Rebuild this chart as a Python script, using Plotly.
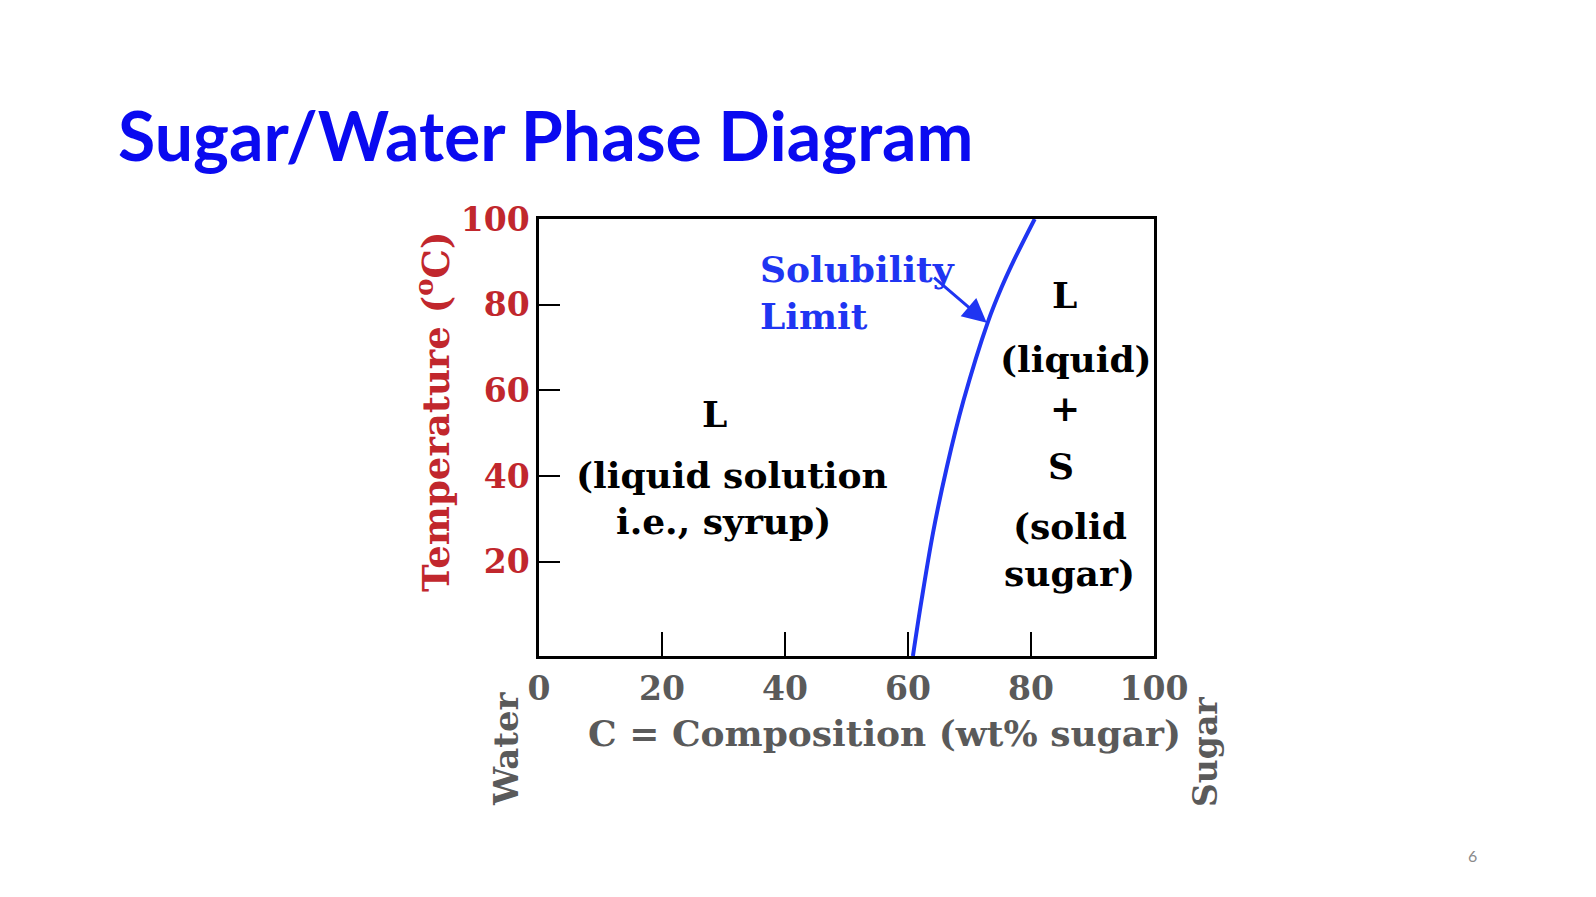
import plotly.graph_objects as go

# solubility limit
temp_c = [-2, 11, 27, 42, 57.5, 76, 84, 90, 100]          # temperature (oC)
sugar_wt = [60.8, 62.2, 64.1, 66.3, 69.0, 73.0, 75.2, 77.1, 80.6]  # wt% sugar

x_ticks = [0, 20, 40, 60, 80, 100]
y_ticks = [20, 40, 60, 80, 100]

W, H = 1596, 897
L, R, T, B = 531, 450, 211, 249
PW, PH = W - L - R, H - T - B

def paper(x, y):
    # page pixel -> paper coords, used for the text around the plot
    return (x - L) / PW, (H - B - y) / PH

SERIF = "DejaVu Serif"
RED = "#c1272d"
GRAY = "#5a5a5a"
BLUE = "#1f35f2"

fig = go.Figure()
fig.add_trace(go.Scatter(x=sugar_wt, y=temp_c, mode="lines",
                         line=dict(color=BLUE, width=4, shape="spline"),
                         hoverinfo="skip"))

anns = []

def page_text(text, x, y, size, color, family, angle=0, xanchor="center"):
    px_, py_ = paper(x, y)
    anns.append(dict(text=text, x=px_, y=py_, xref="paper", yref="paper",
                     xanchor=xanchor, yanchor="middle", showarrow=False,
                     textangle=angle,
                     font=dict(family=family, size=size, color=color, weight="bold")))

page_text("Sugar/Water Phase Diagram", 108, 126, 68, "#0a0af0", "Lato", xanchor="left")
page_text("Temperature (<sup>o</sup>C)", 425, 404, 37, RED, SERIF, angle=-90)
page_text("C = Composition (wt% sugar)", 876, 725, 36, GRAY, SERIF)
page_text("Water", 498, 741, 34, GRAY, SERIF, angle=-90)
page_text("Sugar", 1197, 744, 33, GRAY, SERIF, angle=-90)
anns.append(dict(text="6", x=paper(1471, 859)[0], y=paper(1471, 859)[1],
                 xref="paper", yref="paper", showarrow=False,
                 font=dict(family="Lato", size=16, color="#8a8a8a")))

# region labels inside the diagram
def region(text, x, y, color="black", xanchor="center"):
    anns.append(dict(text=text, x=x, y=y, xref="x", yref="y", showarrow=False,
                     xanchor=xanchor, yanchor="middle",
                     font=dict(family=SERIF, size=36, color=color, weight="bold")))

region("L", 28.6, 54.4)
region("(liquid solution", 31.4, 40.3)
region("i.e., syrup)", 30.0, 29.5)
region("L", 85.5, 82.2)
region("(liquid)", 87.3, 67.4)
region("+", 85.6, 55.8)
region("S", 84.8, 42.4)
region("(solid", 86.4, 28.3)
region("sugar)", 86.2, 17.4)
anns.append(dict(text="Solubility<br>Limit", x=35.6, y=82.9, xref="x", yref="y",
                 showarrow=False, xanchor="left", yanchor="middle", align="left",
                 font=dict(family=SERIF, size=36, color=BLUE, weight="bold")))
anns.append(dict(text="", x=72.8, y=75.8, ax=64.0, ay=86.6, xref="x", yref="y",
                 axref="x", ayref="y", showarrow=True, arrowhead=2, arrowsize=1.6,
                 arrowwidth=3, arrowcolor=BLUE))

fig.update_layout(
    width=W, height=H,
    margin=dict(l=L, r=R, t=T, b=B),
    paper_bgcolor="white", plot_bgcolor="white",
    showlegend=False,
    annotations=anns,
    xaxis=dict(range=[0, 100], tickvals=x_ticks, ticks="inside", ticklen=24,
               tickwidth=2, tickcolor="black", showgrid=False, zeroline=False,
               showline=True, mirror=True, linecolor="black", linewidth=2.5,
               ticklabelstandoff=2,
               tickfont=dict(family=SERIF, size=33, color=GRAY, weight="bold")),
    yaxis=dict(range=[-2, 100], tickvals=y_ticks, ticks="inside", ticklen=21,
               tickwidth=2, tickcolor="black", showgrid=False, zeroline=False,
               showline=True, mirror=True, linecolor="black", linewidth=2.5,
               tickfont=dict(family=SERIF, size=33, color=RED, weight="bold")),
)

fig.write_html("out.html")
